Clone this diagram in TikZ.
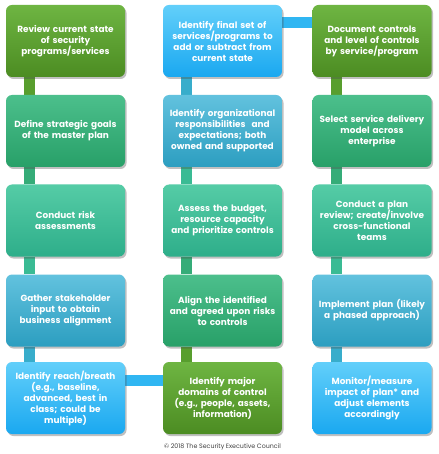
\documentclass[tikz,border=0pt]{standalone}
\usepackage{fontspec}
\setmainfont{Poppins}
\usetikzlibrary{shadows,backgrounds}
\definecolor{gAt}{HTML}{6EB542}\definecolor{gAb}{HTML}{4C8C22}
\definecolor{gBt}{HTML}{4CBF8C}\definecolor{gBb}{HTML}{28A068}
\definecolor{gCt}{HTML}{55CCA6}\definecolor{gCb}{HTML}{2EAE8A}
\definecolor{gDt}{HTML}{62C2DE}\definecolor{gDb}{HTML}{2C9EC0}
\definecolor{gEt}{HTML}{62CFFA}\definecolor{gEb}{HTML}{1AA8F0}
\definecolor{gAm}{HTML}{589E2E}\definecolor{gBm}{HTML}{35AC78}
\definecolor{gCm}{HTML}{3ABB94}\definecolor{gDm}{HTML}{38ADCB}
\definecolor{gEm}{HTML}{30B6F2}
\tikzset{
  box/.style={rounded corners=6pt, minimum width=119pt, minimum height=72pt,
    inner sep=0pt, text width=117pt, align=center, text=white,
    font=\bfseries\fontsize{8.9}{11}\selectfont,
    drop shadow={shadow xshift=1.5pt, shadow yshift=-2pt, opacity=0.35, fill=black!70}},
  sA/.style={box, top color=gAt, bottom color=gAb},
  sB/.style={box, top color=gBt, bottom color=gBb},
  sC/.style={box, top color=gCt, bottom color=gCb},
  sD/.style={box, top color=gDt, bottom color=gDb},
  sE/.style={box, top color=gEt, bottom color=gEb},
  link/.style={line width=11pt},
}
\begin{document}
\begin{tikzpicture}[x=1pt,y=-1pt]
\useasboundingbox (0,0) rectangle (438,454);
% column 1
\node[sA] (a1) at (65.5,41) {Review current state\\ of security\\ programs/services};
\node[sB] (a2) at (65.5,131) {Define strategic goals\\ of the master plan};
\node[sC] (a3) at (65.5,220.5) {Conduct risk\\ assessments};
\node[sD] (a4) at (65.5,310.5) {Gather stakeholder\\ input to obtain\\ business alignment};
\node[sE] (a5) at (65.5,398) {Identify reach/breath\\ (e.g., baseline,\\ advanced, best in\\ class; could be\\ multiple)};
% column 2
\node[sE] (b1) at (222.5,41) {Identify final set of\\ services/programs to\\ add or subtract from\\ current state};
\node[sD] (b2) at (222.5,131) {Identify organizational\\ responsibilities\ \ and\\ expectations; both\\ owned and supported};
\node[sC] (b3) at (222.5,220.5) {Assess the budget,\\ resource capacity\\ and prioritize controls};
\node[sB] (b4) at (222.5,310.5) {Align the identified\\ and agreed upon risks\\ to controls};
\node[sA] (b5) at (222.5,398) {Identify major\\ domains of control\\ (e.g., people, assets,\\ information)};
% column 3
\node[sA] (c1) at (372,41) {Document controls\\ and level of controls\\ by service/program};
\node[sB] (c2) at (372,131) {Select service delivery\\ model across\\ enterprise};
\node[sC] (c3) at (372,220.5) {Conduct a plan\\ review; create/involve\\ cross-functional\\ teams};
\node[sD] (c4) at (372,310.5) {Implement plan (likely\\ a phased approach)};
\node[sE] (c5) at (372,398) {Monitor/measure\\ impact of plan* and\\ adjust elements\\ accordingly};
\node[font=\fontsize{6.3}{7}\selectfont, text=black!75] (cr) at (222.5,447) {© 2018 The Security Executive Council};
\begin{scope}[on background layer]
\fill[white] (0,0) rectangle (438,454);
\draw[link,gAm] ([xshift=24pt]a1.south west) -- ([xshift=24pt]a2.north west);
\draw[link,gBm] ([xshift=24pt]a2.south west) -- ([xshift=24pt]a3.north west);
\draw[link,gCm] ([xshift=24pt]a3.south west) -- ([xshift=24pt]a4.north west);
\draw[link,gDm] ([xshift=24pt]a4.south west) -- ([xshift=24pt]a5.north west);
\draw[link,gEm] ([yshift=18pt]a5.east) -- ([yshift=18pt]b5.west);
\draw[link,gAm] ([xshift=23.5pt]b5.north west) -- ([xshift=23.5pt]b4.south west);
\draw[link,gBm] ([xshift=23.5pt]b4.north west) -- ([xshift=23.5pt]b3.south west);
\draw[link,gCm] ([xshift=23.5pt]b3.north west) -- ([xshift=23.5pt]b2.south west);
\draw[link,gDm] ([xshift=23.5pt]b2.north west) -- ([xshift=23.5pt]b1.south west);
\draw[link,gEm] ([yshift=18.5pt]b1.east) -- ([yshift=18.5pt]c1.west);
\draw[link,gAm] ([xshift=24pt]c1.south west) -- ([xshift=24pt]c2.north west);
\draw[link,gBm] ([xshift=24pt]c2.south west) -- ([xshift=24pt]c3.north west);
\draw[link,gCm] ([xshift=24pt]c3.south west) -- ([xshift=24pt]c4.north west);
\draw[link,gDm] ([xshift=24pt]c4.south west) -- ([xshift=24pt]c5.north west);
\end{scope}
\end{tikzpicture}
\end{document}
